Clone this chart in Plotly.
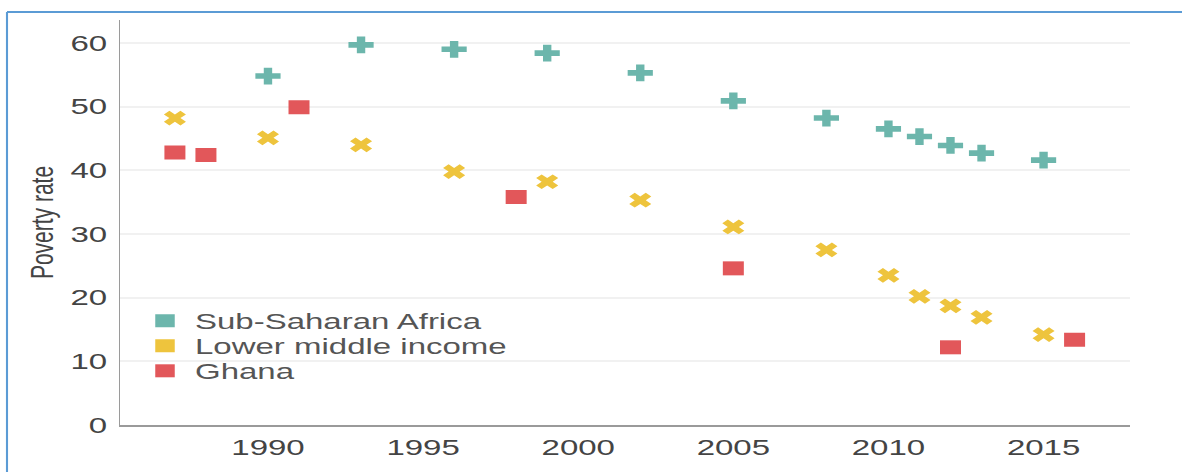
import plotly.graph_objects as go

# ---- data ----
ssa_years = [1990, 1993, 1996, 1999, 2002, 2005, 2008, 2010, 2011, 2012, 2013, 2015]
ssa_rate = [54.8, 59.7, 59.0, 58.4, 55.3, 50.9, 48.2, 46.5, 45.3, 43.9, 42.7, 41.6]

lmi_years = [1987, 1990, 1993, 1996, 1999, 2002, 2005, 2008, 2010, 2011, 2012, 2013, 2015]
lmi_rate = [48.2, 45.1, 44.0, 39.8, 38.2, 35.3, 31.1, 27.5, 23.5, 20.2, 18.7, 16.9, 14.2]

gha_years = [1987, 1988, 1991, 1998, 2005, 2012, 2016]
gha_rate = [42.8, 42.4, 49.9, 35.8, 24.6, 12.2, 13.4]

series_names = ["Sub-Saharan Africa", "Lower middle income", "Ghana"]
series_colors = ["#6cb6ac", "#eec43d", "#e2575a"]

y_ticks = [0, 10, 20, 30, 40, 50, 60]
x_ticks = [1990, 1995, 2000, 2005, 2010, 2015]

FONT = "Liberation Sans, Arial, sans-serif"
STRETCH = 1.5          # the reference picture is stretched horizontally
PAGE_W, PAGE_H = 1182, 472
W = PAGE_W / STRETCH   # figure width before the horizontal stretch
PL, PR, PT, PB = 80, 35, 20, 47
plot_w = W - PL - PR
plot_h = PAGE_H - PT - PB

fig = go.Figure()

fig.add_trace(go.Scatter(
    x=ssa_years, y=ssa_rate, mode="markers", name=series_names[0], showlegend=False,
    marker=dict(symbol="cross", size=14, color=series_colors[0], line=dict(width=0)),
))
fig.add_trace(go.Scatter(
    x=lmi_years, y=lmi_rate, mode="markers", name=series_names[1], showlegend=False,
    marker=dict(symbol="x", size=13, color=series_colors[1], line=dict(width=0)),
))
fig.add_trace(go.Scatter(
    x=gha_years, y=gha_rate, mode="markers", name=series_names[2], showlegend=False,
    marker=dict(symbol="square", size=14, color=series_colors[2], line=dict(width=0)),
))

# legend entries drawn as coloured squares, one legend per row for tight spacing
legend_ids = ["legend", "legend2", "legend3"]
legend_rows_px = [321, 346, 371]   # page y of each legend row centre
for name, color, lid in zip(series_names, series_colors, legend_ids):
    fig.add_trace(go.Scatter(
        x=[None], y=[None], mode="markers", name=name, legend=lid,
        marker=dict(symbol="square", size=13, color=color),
    ))

legend_x = (90 - PL) / plot_w
legend_common = dict(
    xanchor="left", yanchor="middle", bgcolor="rgba(0,0,0,0)",
    font=dict(family=FONT, size=22, color="#555555"), itemwidth=30,
)
legends = {}
for lid, ypx in zip(legend_ids, legend_rows_px):
    legends[lid] = dict(x=legend_x, y=(PAGE_H - PB - ypx) / plot_h, **legend_common)

border_y = (PAGE_H - PB - 12) / plot_h
border_x = (7 / STRETCH - PL) / plot_w

fig.update_layout(
    width=W, height=PAGE_H,
    margin=dict(l=PL, r=PR, t=PT, b=PB),
    paper_bgcolor="white", plot_bgcolor="white",
    font=dict(family=FONT, color="#444444"),
    showlegend=True,
    **legends,
    xaxis=dict(
        range=[1985.23, 2017.77], tickvals=x_ticks, ticktext=[str(t) for t in x_ticks],
        showgrid=False, zeroline=False, showline=True, linecolor="#9a9a9a", linewidth=2,
        ticks="", tickfont=dict(size=22, color="#444444"), ticklabelstandoff=2,
    ),
    yaxis=dict(
        range=[0, 63.6], tickvals=y_ticks,
        showgrid=True, gridcolor="#f1f1f1", gridwidth=2, zeroline=False,
        showline=True, linecolor="#9a9a9a", linewidth=1.4,
        ticks="", tickfont=dict(size=22, color="#444444"), ticklabelstandoff=3,
        title=dict(text="Poverty rate", font=dict(size=21, color="#444444"), standoff=5),
    ),
    shapes=[
        dict(type="line", xref="paper", yref="paper",
             x0=border_x, x1=border_x, y0=border_y, y1=-0.2,
             line=dict(color="#5b9bd5", width=1.4)),
        dict(type="line", xref="paper", yref="paper",
             x0=border_x, x1=1.2, y0=border_y, y1=border_y,
             line=dict(color="#5b9bd5", width=2)),
    ],
)

post = (
    "document.body.style.margin='0';"
    "var gd=document.getElementById('{plot_id}');"
    "gd.style.transformOrigin='0 0';"
    "gd.style.transform='scaleX(%s)';" % STRETCH
)
fig.write_html("out.html", post_script=post, config={"displayModeBar": False})
